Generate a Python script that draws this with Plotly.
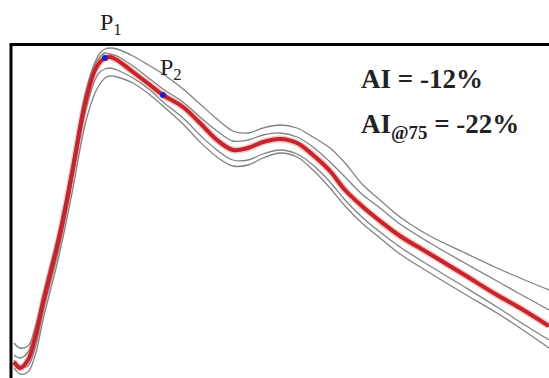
import plotly.graph_objects as go

# time samples (arbitrary units)
t = [14, 20, 28, 35, 43, 50, 58, 65, 73, 85, 95, 100, 105, 110, 117, 133, 150, 163,
     183, 200, 217, 233, 248, 263, 280, 297, 313, 330, 345, 363, 380, 400, 430, 463,
     497, 520, 549]

# ensemble-average waveform (red)
mean_wave = [16, 10, 18, 40, 75, 103, 135, 168, 210, 274, 308, 316, 320, 321, 318, 306,
             293, 283, 271, 255, 238, 228, 230, 236, 239, 235, 223, 207, 188, 171, 157,
             142, 124, 104, 83, 70, 52]

# individual waveforms (grey)
wave_1 = [35, 30, 32, 50, 83, 111, 143, 176, 218, 283, 316, 325, 329, 330, 329, 322,
          312, 304, 289, 274, 259, 247, 245, 250, 253, 250, 241, 230, 215, 193, 178,
          161, 142, 126, 110, 100, 88]
wave_2 = [23, 20, 26, 46, 80, 108, 140, 173, 214, 279, 313, 321, 325, 324, 322, 312,
          299, 289, 276, 261, 247, 237, 238, 243, 245, 241, 231, 216, 201, 183, 170,
          154, 135, 116, 97, 84, 68]
wave_3 = [18, 12, 12, 30, 66, 94, 126, 159, 201, 265, 298, 306, 309, 310, 308, 300,
          288, 276, 260, 243, 228, 218, 218, 224, 228, 224, 213, 196, 178, 160, 146,
          131, 112, 92, 71, 56, 38]
wave_4 = [10, 4, 6, 22, 58, 86, 118, 150, 190, 253, 285, 294, 300, 302, 301, 295, 283,
          272, 254, 236, 221, 212, 213, 220, 225, 221, 208, 190, 172, 154, 140, 124,
          105, 85, 65, 50, 30]

# characteristic points P1, P2
p_t = [105, 163]
p_val = [320, 283]
p_labels = ["P<sub>1</sub>", "P<sub>2</sub>"]
p_label_t = [111, 171]
p_label_val = [354, 309]

ai_texts = ["<b>AI = -12%</b>", "<b>AI<sub>@75</sub> = -22%</b>"]
ai_val = [299, 252]

fig = go.Figure()
for w in [wave_1, wave_2, wave_3, wave_4]:
    fig.add_trace(go.Scatter(x=t, y=w, mode="lines", line=dict(color="#7d8484", width=1.3, shape="spline"),
                             hoverinfo="skip", showlegend=False))
fig.add_trace(go.Scatter(x=t, y=mean_wave, mode="lines",
                         line=dict(color="rgba(230,90,90,0.35)", width=7, shape="spline"),
                         hoverinfo="skip", showlegend=False))
fig.add_trace(go.Scatter(x=t, y=mean_wave, mode="lines",
                         line=dict(color="#c4242a", width=4, shape="spline"),
                         hoverinfo="skip", showlegend=False))
fig.add_trace(go.Scatter(x=p_t, y=p_val, mode="markers", hoverinfo="skip",
                         marker=dict(color="#2020c8", size=6), showlegend=False))

for lab, lx, ly in zip(p_labels, p_label_t, p_label_val):
    fig.add_annotation(x=lx, y=ly, text=lab, showarrow=False,
                       font=dict(family="Liberation Serif", size=24, color="#222"))
for txt, v in zip(ai_texts, ai_val):
    fig.add_annotation(x=359, y=v, text=txt, showarrow=False, xanchor="left",
                       font=dict(family="Liberation Serif", size=27, color="#222"))

# frame (left and top edges)
fig.add_shape(type="line", x0=11, x1=11, y0=-10, y1=333.5, line=dict(color="black", width=3))
fig.add_shape(type="line", x0=9.5, x1=560, y0=333.5, y1=333.5, line=dict(color="black", width=3))

fig.update_layout(width=549, height=378, margin=dict(l=0, r=0, t=0, b=0),
                  plot_bgcolor="white", paper_bgcolor="white", hovermode=False,
                  xaxis=dict(range=[0, 549], visible=False),
                  yaxis=dict(range=[0, 378], visible=False))
fig.write_html("out.html", config={"displayModeBar": False, "staticPlot": True},
               post_script="document.body.style.margin='0';document.body.style.overflow='hidden';")
